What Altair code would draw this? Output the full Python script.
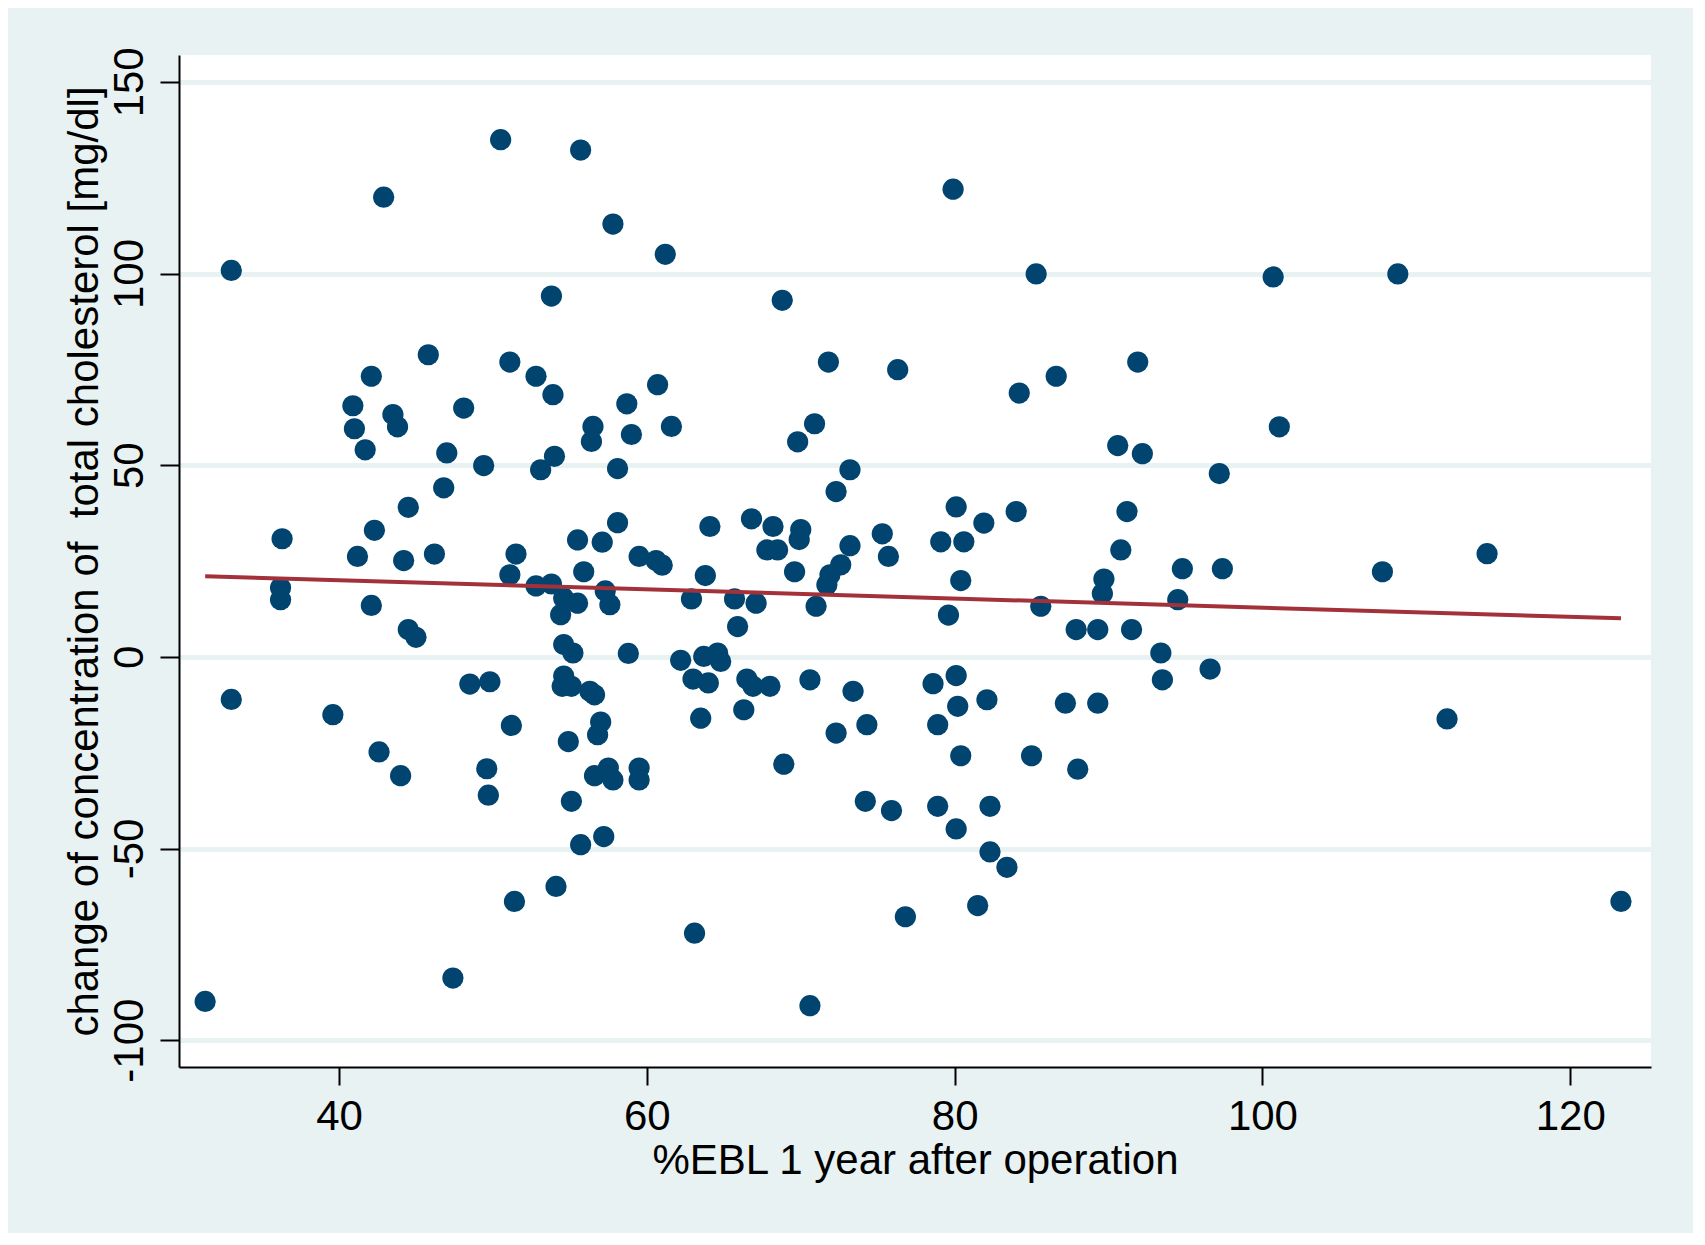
import altair as alt
import pandas as pd

# %EBL 1 year after operation (x) and change of total cholesterol (y)
ebl = [31.3, 33.0, 33.0, 36.2, 36.2, 36.3, 39.6, 40.9, 41.0, 41.2,
       41.7, 42.1, 42.1, 42.3, 42.6, 42.9, 43.5, 43.8, 44.0, 44.2,
       44.5, 44.5, 45.0, 45.8, 46.2, 46.8, 47.0, 47.4, 48.1, 48.5,
       49.4, 49.6, 49.7, 49.8, 50.5, 51.1, 51.1, 51.2, 51.4, 51.5,
       52.8, 52.8, 53.1, 53.8, 53.8, 53.9, 54.0, 54.1, 54.4, 54.6,
       54.6, 54.6, 54.5, 55.1, 54.9, 55.1, 55.2, 55.5, 55.5, 55.7,
       55.7, 55.9, 56.3, 56.5, 56.4, 56.6, 56.6, 56.8, 57.0, 57.2,
       57.1, 57.3, 57.6, 57.5, 57.8, 57.8, 58.1, 58.1, 58.7, 58.8,
       59.0, 59.5, 59.5, 59.5, 60.7, 60.6, 61.2, 61.0, 61.6, 62.2,
       62.9, 63.0, 63.1, 63.5, 63.7, 63.8, 64.0, 64.1, 64.6, 64.8,
       65.7, 65.9, 66.3, 66.5, 66.8, 66.9, 67.1, 67.8, 68.0, 68.2,
       68.5, 68.8, 68.9, 69.6, 69.8, 69.9, 70.0, 70.6, 70.6, 70.9,
       71.0, 71.7, 71.9, 71.8, 72.3, 72.3, 72.6, 73.2, 73.2, 73.4,
       74.2, 74.3, 75.3, 75.7, 75.9, 76.3, 76.8, 78.6, 78.9, 78.9,
       79.1, 79.6, 79.9, 80.1, 80.1, 80.1, 80.2, 80.4, 80.4, 80.6,
       81.5, 81.9, 82.1, 82.3, 82.3, 83.4, 84.0, 84.2, 85.0, 85.3,
       85.6, 86.6, 87.2, 87.9, 88.0, 89.3, 89.3, 89.7, 89.6, 90.6,
       90.8, 91.2, 91.5, 91.9, 92.2, 93.4, 93.5, 94.5, 94.8, 96.6,
       97.2, 97.4, 100.7, 101.1, 107.8, 108.8, 112.0, 114.6, 123.3]

chol = [-89.9, 100.8, -11.1, 18.0, 14.9, 30.8, -15.1, 65.5, 59.5, 26.2,
        54.0, 73.2, 13.4, 33.0, -24.8, 119.9, 63.2, 60.0, -31.0, 25.1,
        39.0, 7.1, 5.1, 78.8, 26.8, 44.1, 53.2, -83.8, 64.9, -7.1,
        49.9, -29.2, -36.1, -6.5, 134.9, 76.9, 21.4, -17.9, -63.8, 26.8,
        73.2, 18.5, 48.8, 94.1, 19.0, 68.4, 52.3, -59.9, 11.0, 15.3,
        3.2, -5.0, -7.7, -7.7, -22.1, -37.7, 1.0, 30.5, 14.0, 132.2,
        -49.0, 22.2, -9.0, 60.1, 56.2, -9.9, -31.0, -20.3, -17.0, -46.9,
        29.9, 17.2, 13.6, -29.0, 112.9, -32.1, 49.1, 35.0, 66.0, 0.9,
        58.0, -29.0, -32.1, 26.2, 71.0, 25.1, 105.0, 23.9, 60.1, -0.9,
        15.1, -5.8, -72.1, -16.0, 0.1, 21.2, -6.8, 34.0, 1.0, -1.2,
        15.1, 7.9, -13.8, -5.8, 36.0, -7.7, 14.0, 27.9, -7.7, 34.0,
        27.9, 93.0, -28.0, 22.2, 56.1, 30.6, 33.2, -91.0, -6.0, 60.8,
        13.2, 18.8, 21.4, 76.9, 43.1, -19.9, 24.0, 48.8, 29.0, -9.0,
        -37.7, -17.7, 32.1, 26.2, -40.1, 74.9, -67.8, -7.0, -39.0, -17.7,
        30.0, 10.9, 122.0, -4.9, 39.1, -44.9, -12.9, 19.9, -25.8, 30.0,
        -64.9, 34.9, -11.2, -39.0, -50.9, -54.9, 37.9, 68.8, -25.8, 99.9,
        13.2, 73.2, -12.1, 7.1, -29.3, 7.1, -12.1, 20.3, 16.5, 55.1,
        27.9, 37.9, 7.1, 76.9, 53.0, 1.0, -6.0, 14.9, 23.0, -3.2,
        47.8, 23.0, 99.1, 60.0, 22.2, 99.9, -16.2, 26.9, -63.8]

x_ticks = [40, 60, 80, 100, 120]
y_ticks = [-100, -50, 0, 50, 100, 150]

df = pd.DataFrame({"ebl": ebl, "chol": chol})

FONT = "Liberation Sans"
BG = "#e8f2f2"

xscale = alt.Scale(domain=[29.6, 125.25], nice=False, zero=False)
yscale = alt.Scale(domain=[-107, 157], nice=False, zero=False)

x_axis = alt.Axis(
    title="%EBL 1 year after operation",
    values=x_ticks, grid=False,
    domainColor="black", domainWidth=2,
    tickColor="black", tickWidth=2, tickSize=18,
    labelFontSize=42, labelFont=FONT, labelColor="black",
    labelPadding=11, labelFlush=False, labelOverlap=False,
    titleFontSize=42, titleFont=FONT, titleFontWeight="normal", titleColor="black",
    titleBaseline="alphabetic", titleAlign="center", titleX=736, titleY=106,
)

y_axis = alt.Axis(
    title="change of concentration of\u00a0 total cholesterol [mg/dl]",
    values=y_ticks, grid=True, gridColor=BG, gridWidth=5,
    domainColor="black", domainWidth=2,
    tickColor="black", tickWidth=2, tickSize=19,
    labelExpr="toString(datum.value)",
    labelFontSize=42, labelFont=FONT, labelColor="black",
    labelAngle=270, labelAlign="center", labelBaseline="bottom",
    labelPadding=9, labelFlush=False, labelOverlap=False,
    titleFontSize=42, titleFont=FONT, titleFontWeight="normal", titleColor="black",
    titleAngle=270, titleBaseline="alphabetic", titleAlign="center",
    titleX=-82, titleY=506,
)

base = alt.Chart(df)

points = base.mark_circle(size=450, color="#00446f", opacity=1).encode(
    x=alt.X("ebl:Q", scale=xscale, axis=x_axis),
    y=alt.Y("chol:Q", scale=yscale, axis=y_axis),
)

fit = base.transform_regression("ebl", "chol").mark_line(
    color="#a3313a", strokeWidth=4
).encode(
    x=alt.X("ebl:Q", scale=xscale),
    y=alt.Y("chol:Q", scale=yscale),
)

chart = alt.layer(points, fit).properties(
    width=1472, height=1012,
    autosize=alt.AutoSizeParams(type="none"),
    padding={"left": 171, "top": 47, "right": 42, "bottom": 166},
    background=BG,
).configure_view(fill="white", strokeWidth=0)

chart.save("out.html", embed_options={"renderer": "svg", "actions": False})
